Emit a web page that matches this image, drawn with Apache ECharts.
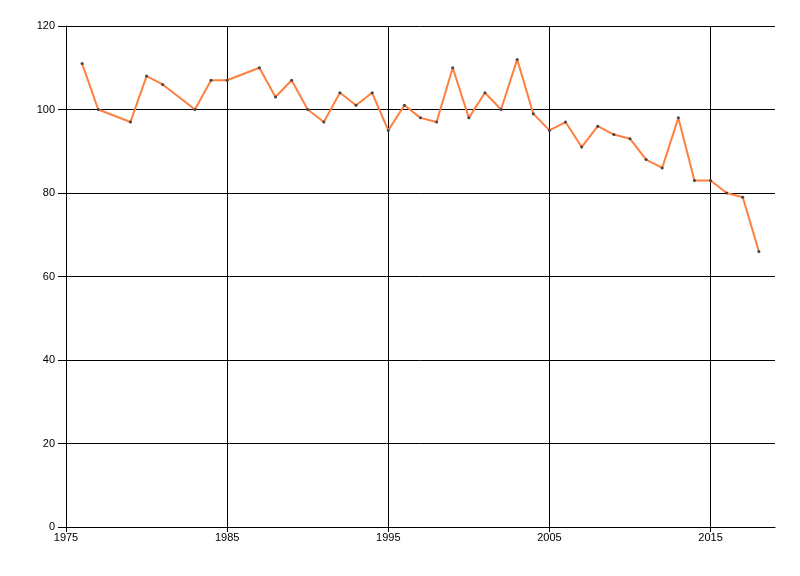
<!DOCTYPE html>
<html>
<head>
<meta charset="utf-8">
<script src="https://cdn.jsdelivr.net/npm/echarts@6/dist/echarts.min.js"></script>
<style>html,body{margin:0;padding:0;background:#fff}#c{width:800px;height:576px}</style>
</head>
<body>
<div id="c"></div>
<script>
var years = [1976,1977,1979,1980,1981,1983,1984,1985,1987,1988,1989,1990,1991,1992,1993,1994,1995,1996,1997,1998,1999,2000,2001,2002,2003,2004,2005,2006,2007,2008,2009,2010,2011,2012,2013,2014,2015,2016,2017,2018];
var values = [111,100,97,108,106,100,107,107,110,103,107,100,97,104,101,104,95,101,98,97,110,98,104,100,112,99,95,97,91,96,94,93,88,86,98,83,83,80,79,66];
var xTicks = [1975,1985,1995,2005,2015];
var yTicks = [0,20,40,60,80,100,120];

var data = years.map(function(y,i){return [y, values[i]];});
var chart = echarts.init(document.getElementById('c'), null, {renderer:'canvas'});
var lbl = {color:'#000', fontFamily:'Liberation Sans, Arial, sans-serif', fontSize:11};
chart.setOption({
  animation:false,
  backgroundColor:'#fff',
  grid:{left:66, right:25, top:26, bottom:49, containLabel:false},
  xAxis:{
    type:'value', min:1975, max:2019,
    axisLine:{lineStyle:{color:'#000', width:1}},
    axisTick:{show:true, length:5, customValues:xTicks, lineStyle:{color:'#000'}},
    axisLabel:Object.assign({margin:5, customValues:xTicks, formatter:function(v){return String(v);}}, lbl),
    splitLine:{show:true, lineStyle:{color:'#000', width:1}}
  },
  yAxis:{
    type:'value', min:0, max:120, interval:20,
    axisLine:{show:true, lineStyle:{color:'#000', width:1}},
    axisTick:{show:true, length:8, lineStyle:{color:'#000'}},
    axisLabel:Object.assign({margin:11, formatter:function(v){return yTicks.indexOf(v)>=0? String(v):'';}}, lbl),
    splitLine:{show:true, lineStyle:{color:'#000', width:1}}
  },
  series:[{
    type:'line', data:data,
    symbol:'circle', symbolSize:3,
    itemStyle:{color:'#444'},
    lineStyle:{color:'#FF7F3F', width:2},
    z:3
  }]
});
</script>
</body>
</html>
